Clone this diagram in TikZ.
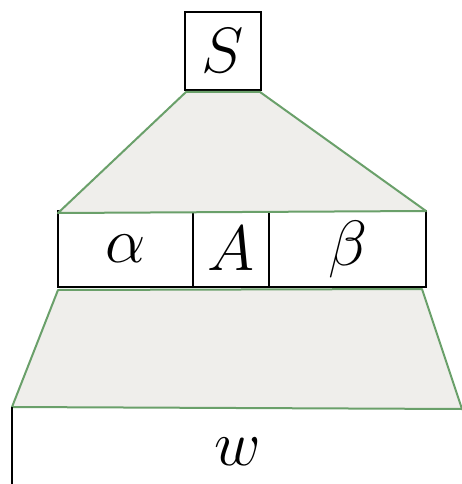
\RequirePackage{fix-cm}
\documentclass[tikz,border=0pt]{standalone}
\begin{document}
\begin{tikzpicture}[x=1pt,y=-1pt,
  cell/.style={draw=black,line width=2pt,inner sep=0pt,outer sep=0pt,font=\fontsize{64}{64}\selectfont},
  tree/.style={draw={rgb,255:red,106;green,160;blue,106},fill={rgb,255:red,239;green,238;blue,235},line width=2pt,line join=round}]
\useasboundingbox (0,0) rectangle (462,484);
\node[cell,minimum width=76pt,minimum height=78pt] (S) at (223,51) {$S$};
\node[cell,minimum width=135pt,minimum height=76pt] (alpha) at (125.5,249) {$\alpha$};
\node[cell,minimum width=76pt,minimum height=76pt] (A) at (231,249) {$A$};
\node[cell,minimum width=157pt,minimum height=76pt] (beta) at (347.5,249) {$\beta$};
\coordinate (t1) at (186,92);
\coordinate (t2) at (260,92);
\coordinate (t3) at (426,211);
\coordinate (t4) at (58,213);
\coordinate (b1) at (58,290);
\coordinate (b2) at (422,289);
\coordinate (b3) at (462,409);
\coordinate (b4) at (12,407);
\coordinate (wb) at (12,486);
\draw[tree] (t1) -- (t2) -- (t3) -- (t4) -- cycle;
\draw[tree] (b1) -- (b2) -- (b3) -- (b4) -- cycle;
\draw[black,line width=2pt] (b4) -- (wb);
\node[font=\fontsize{64}{64}\selectfont,inner sep=0pt] (w) at (238,452) {$w$};
\end{tikzpicture}
\end{document}
